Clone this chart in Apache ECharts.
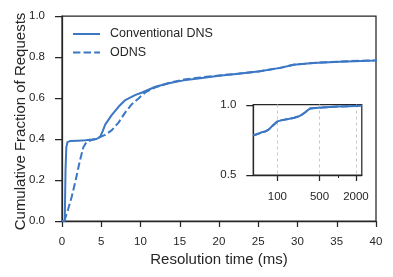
<!DOCTYPE html>
<html>
<head>
<meta charset="utf-8">
<script src="https://cdn.jsdelivr.net/npm/echarts@6/dist/echarts.min.js"></script>
<style>
html,body{margin:0;padding:0;background:#fff;}
#chart{width:393px;height:277px;}
</style>
</head>
<body>
<div id="chart"></div>
<script>
// Resolution time (ms) and cumulative fraction for each resolver
const convTime = [0, 0.35, 0.45, 0.55, 0.7, 1.0, 2.0, 3.0, 3.8, 4.4, 4.85, 5.2, 5.5, 6.3, 7.2, 8.0, 9.3, 10.2, 11.9, 13.6, 15.5, 17.6, 20, 22.5, 25.2, 27.8, 29.5, 32, 35.4, 40, 48, 55, 63, 71, 80, 88, 100, 120, 152, 190, 223, 260, 287, 320, 348, 420, 543, 750, 1023, 1500, 2000, 2500];
const convCdf  = [0, 0.0, 0.25, 0.36, 0.385, 0.39, 0.392, 0.394, 0.397, 0.40, 0.41, 0.44, 0.47, 0.515, 0.557, 0.588, 0.614, 0.627, 0.655, 0.672, 0.686, 0.696, 0.708, 0.718, 0.73, 0.747, 0.762, 0.771, 0.777, 0.783, 0.795, 0.806, 0.812, 0.823, 0.845, 0.862, 0.884, 0.893, 0.901, 0.91, 0.919, 0.935, 0.948, 0.965, 0.976, 0.98, 0.983, 0.987, 0.99, 0.993, 0.995, 0.996];
const odnsTime = [0.3, 0.8, 1.23, 1.74, 2.29, 2.72, 3.14, 3.77, 4.4, 4.85, 5.5, 6.35, 7.2, 8.06, 8.9, 9.75, 10.6, 11.9, 13.6, 15.5, 17.6, 20, 22.5, 25.2, 27.8, 29.5, 32, 35.4, 40, 48, 55, 63, 71, 80, 88, 100, 120, 152, 190, 223, 260, 287, 320, 348, 420, 543, 750, 1023, 1500, 2000, 2500];
const odnsCdf  = [0, 0.06, 0.117, 0.199, 0.296, 0.36, 0.386, 0.395, 0.40, 0.41, 0.42, 0.443, 0.48, 0.53, 0.57, 0.598, 0.627, 0.652, 0.673, 0.69, 0.70, 0.71, 0.719, 0.73, 0.747, 0.762, 0.771, 0.778, 0.784, 0.795, 0.806, 0.812, 0.823, 0.845, 0.862, 0.884, 0.893, 0.901, 0.91, 0.919, 0.935, 0.948, 0.965, 0.976, 0.98, 0.983, 0.987, 0.99, 0.993, 0.995, 0.996];
const seriesNames = ['Conventional DNS', 'ODNS'];
const mainXTicks = [0, 5, 10, 15, 20, 25, 30, 35, 40];
const mainYTicks = [0, 0.2, 0.4, 0.6, 0.8, 1.0];
const insetXTicks = [100, 500, 2000];
const insetMinorTicks = [1000];
const insetYTicks = [0.5, 1.0];
const xTitle = 'Resolution time (ms)';
const yTitle = 'Cumulative Fraction of Requests';

const FONT = 'Liberation Sans, Arial, sans-serif';
const DARK = '#262626';
const BLUE = '#3b77c4';

const pairs = (t, v) => t.map((x, i) => [x, v[i]]);
const convData = pairs(convTime, convCdf);
const odnsData = pairs(odnsTime, odnsCdf);
const inInset = d => d.filter(p => p[0] >= 40);

const chart = echarts.init(document.getElementById('chart'), null, {renderer: 'canvas'});
chart.setOption({
  animation: false,
  backgroundColor: '#fff',
  textStyle: {fontFamily: FONT, color: DARK},
  legend: {
    orient: 'vertical', left: 72, top: 27.5, padding: 0,
    itemWidth: 27, itemHeight: 14, itemGap: 5.5,
    itemStyle: {opacity: 0},
    textStyle: {fontSize: 12.5, color: DARK, fontFamily: FONT, padding: [0, 0, 0, 5]},
    data: seriesNames
  },
  graphic: [{
    type: 'text', x: 20.5, y: 121.5, rotation: Math.PI / 2, silent: true,
    style: {text: yTitle, fontSize: 15, fontFamily: FONT, fill: DARK,
      align: 'center', verticalAlign: 'middle'}
  }],
  grid: [
    {left: 62, right: 17, top: 16, bottom: 56, outerBoundsMode: 'none', containLabel: false,
      show: true, borderColor: DARK, borderWidth: 1.25, backgroundColor: '#fff'},
    {left: 253.3, top: 104.5, width: 108.5, height: 70.5, outerBoundsMode: 'none', containLabel: false,
      show: true, borderColor: DARK, borderWidth: 1.25, backgroundColor: '#fff', z: 5}
  ],
  xAxis: [
    {
      gridIndex: 0, type: 'value', min: 0, max: 40, interval: 5,
      name: xTitle, nameLocation: 'middle', nameGap: 31, nameMoveOverlap: false,
      nameTextStyle: {fontSize: 15, color: DARK, fontFamily: FONT},
      axisLine: {show: true, lineStyle: {color: DARK, width: 1.25}},
      axisTick: {show: true, length: 6, lineStyle: {color: DARK, width: 1.25}},
      axisLabel: {fontSize: 11.5, color: DARK, margin: 15, fontFamily: FONT,
        customValues: mainXTicks},
      splitLine: {show: false}
    },
    {
      gridIndex: 1, type: 'log', logBase: 10, min: 40, max: 2500, position: 'bottom', z: 6,
      axisLine: {show: true, lineStyle: {color: DARK, width: 1.25}},
      axisTick: {show: true, length: 6, lineStyle: {color: DARK, width: 1.25}, customValues: insetXTicks},
      axisLabel: {fontSize: 11.5, color: DARK, margin: 16, fontFamily: FONT, customValues: insetXTicks,
        formatter: v => String(Math.round(v))},
      splitLine: {show: true, lineStyle: {color: '#c8c8c8', type: [3, 3], width: 1}},
      minorTick: {show: false}
    },
    {
      gridIndex: 1, type: 'log', logBase: 10, min: 40, max: 2500, position: 'bottom', z: 6,
      axisLine: {show: false},
      axisTick: {show: true, length: 3, lineStyle: {color: DARK, width: 1}, customValues: insetMinorTicks},
      axisLabel: {show: false},
      splitLine: {show: false}
    }
  ],
  yAxis: [
    {
      gridIndex: 0, type: 'value', min: 0, max: 1, interval: 0.2,
      axisLine: {show: true, lineStyle: {color: DARK, width: 1.25}},
      axisTick: {show: true, length: 7, lineStyle: {color: DARK, width: 1.25}},
      axisLabel: {fontSize: 11.5, color: DARK, margin: 17, fontFamily: FONT,
        customValues: mainYTicks, formatter: v => v.toFixed(1)},
      splitLine: {show: false}
    },
    {
      gridIndex: 1, type: 'value', min: 0.5, max: 1.005, z: 6,
      axisLine: {show: true, lineStyle: {color: DARK, width: 1.25}},
      axisTick: {show: true, length: 7, lineStyle: {color: DARK, width: 1.25}, customValues: insetYTicks},
      axisLabel: {fontSize: 11.5, color: DARK, margin: 17, fontFamily: FONT, customValues: insetYTicks,
        formatter: v => v.toFixed(1)},
      splitLine: {show: true, lineStyle: {color: '#c8c8c8', type: [3, 3], width: 1}}
    }
  ],
  series: [
    {name: seriesNames[0], type: 'line', xAxisIndex: 0, yAxisIndex: 0, data: convData,
      symbol: 'none', clip: true, lineStyle: {color: BLUE, width: 2}, itemStyle: {color: BLUE}},
    {name: seriesNames[1], type: 'line', xAxisIndex: 0, yAxisIndex: 0, data: odnsData,
      symbol: 'none', clip: true, lineStyle: {color: BLUE, width: 2, type: [7.4, 3.2]}, itemStyle: {color: BLUE}},
    {name: seriesNames[0], type: 'line', xAxisIndex: 1, yAxisIndex: 1, data: inInset(convData),
      symbol: 'none', clip: true, z: 7, lineStyle: {color: BLUE, width: 2}, itemStyle: {color: BLUE}},
    {name: seriesNames[1], type: 'line', xAxisIndex: 1, yAxisIndex: 1, data: inInset(odnsData),
      symbol: 'none', clip: true, z: 7, lineStyle: {color: BLUE, width: 2, type: [7.4, 3.2]}, itemStyle: {color: BLUE}}
  ]
});
</script>
</body>
</html>
